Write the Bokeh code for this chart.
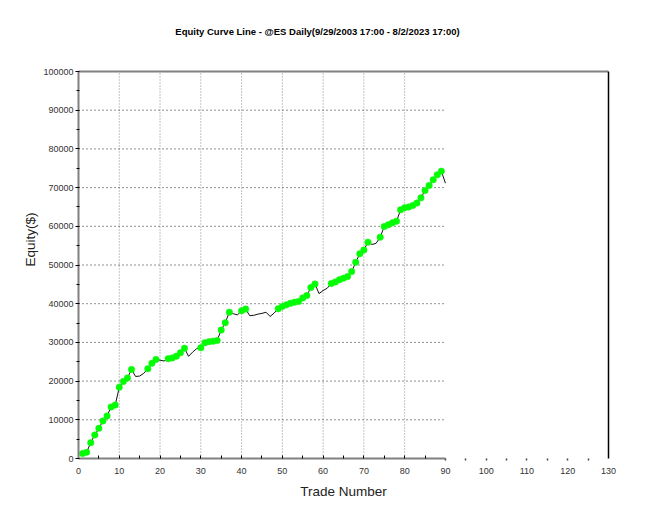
from bokeh.plotting import figure
from bokeh.models import (LinearAxis, FixedTicker, SingleIntervalTicker, Range1d,
                          NumeralTickFormatter, ColumnDataSource)
from bokeh.core.properties import value
from bokeh.embed import file_html
from bokeh.resources import INLINE

# ---------------- data ----------------
title_text = "Equity Curve Line - @ES Daily(9/29/2003 17:00 - 8/2/2023 17:00)"
x_label = "Trade Number"
y_label = "Equity($)"

trade_numbers = list(range(1, 91))
equity = [
    1300, 1600, 4100, 6100, 7800, 9700, 11000, 13300, 13800, 18400,        # 1-10
    19900, 20800, 23000, 21200, 21300, 22000, 23200, 24600, 25600, 25400,  # 11-20
    25200, 25800, 26000, 26450, 27300, 28500, 26400, 27500, 28400, 28600,  # 21-30
    29900, 30200, 30300, 30500, 33200, 35100, 37800, 37400, 37100, 38200,  # 31-40
    38600, 36900, 37000, 37300, 37500, 37800, 36700, 37600, 38700, 39300,  # 41-50
    39700, 40100, 40400, 40600, 41500, 42100, 44200, 45100, 42600, 43400,  # 51-60
    44000, 45200, 45600, 46200, 46600, 47000, 48300, 50700, 52900, 53900,  # 61-70
    55900, 55300, 55600, 57200, 59950, 60400, 60900, 61300, 64250, 64800,  # 71-80
    65000, 65400, 66000, 67350, 69250, 70550, 72000, 73300, 74250, 71150,  # 81-90
]

x_max = 130
y_max = 100000
x_tick_step = 10
y_tick_step = 10000
grid_x_extent = 90          # grid / solid x-axis drawn only up to trade 90

# new equity highs get a green dot
hi_x, hi_y = [], []
peak = float("-inf")
for n, v in zip(trade_numbers, equity):
    if v > peak:
        hi_x.append(n)
        hi_y.append(v)
        peak = v

vgrid = list(range(x_tick_step, grid_x_extent, x_tick_step))
hgrid = list(range(y_tick_step, y_max, y_tick_step))

# ---------------- layout (pixels) ----------------
W, H = 643, 513
frame_left, frame_right = 78, 608
frame_top, frame_bottom = 20, 458      # frame extends above the chart box to hold the title
box_top = 71                           # pixel row of y = y_max
title_row = 31
px_per_unit = (frame_bottom - box_top) / y_max
y_end = (frame_bottom - frame_top) / px_per_unit
title_y = (frame_bottom - title_row) / px_per_unit
title_x = (317 - frame_left) / (frame_right - frame_left) * x_max

FONT = "Liberation Sans"
p = figure(width=W, height=H,
           x_range=Range1d(0, x_max), y_range=Range1d(0, y_end),
           output_backend="svg", toolbar_location=None,
           min_border_left=frame_left, min_border_right=W - frame_right,
           min_border_top=frame_top, min_border_bottom=H - frame_bottom)
p.outline_line_color = None
p.background_fill_color = "white"
p.border_fill_color = "white"
p.xgrid.visible = False
p.ygrid.visible = False

# dotted grid (limited extent)
p.segment(x0=vgrid, x1=vgrid, y0=[0] * len(vgrid), y1=[y_max] * len(vgrid),
          line_color="#888888", line_width=1, line_dash="1 2")
p.segment(x0=[0] * len(hgrid), x1=[grid_x_extent] * len(hgrid), y0=hgrid, y1=hgrid,
          line_color="#222222", line_width=1, line_dash="1 3")

# top frame line
p.segment(x0=[0], x1=[x_max], y0=[y_max], y1=[y_max], line_color="#808080", line_width=2)

# equity curve
src = ColumnDataSource(dict(x=trade_numbers, y=equity))
p.line("x", "y", source=src, line_color="#111111", line_width=1)
hsrc = ColumnDataSource(dict(x=hi_x, y=hi_y))
p.scatter("x", "y", source=hsrc, size=6.5, fill_color="#00ff00", line_color="#22ee22",
          line_width=0.5)

# title
p.text(x=[title_x], y=[title_y], text=[title_text], text_font=value(FONT),
       text_font_style="bold", text_font_size=value("9.5px"), text_color="black",
       text_align="center", text_baseline="middle")

# ---- y axis ----
ya = p.yaxis[0]
ya.ticker = SingleIntervalTicker(interval=y_tick_step, num_minor_ticks=2)
ya.formatter = NumeralTickFormatter(format="0")
ya.bounds = (0, y_max)
ya.axis_line_color = "#808080"
ya.axis_line_width = 2
ya.major_tick_in = 0
ya.major_tick_out = 3
ya.major_tick_line_color = "black"
ya.minor_tick_in = 1
ya.minor_tick_out = 2
ya.minor_tick_line_color = "black"
ya.major_label_text_font = FONT
ya.major_label_text_font_size = "9px"
ya.major_label_text_color = "#333333"
ya.major_label_standoff = 2
ya.axis_label = y_label
ya.axis_label_text_font = FONT
ya.axis_label_text_font_style = "normal"
ya.axis_label_text_font_size = "13.5px"
ya.axis_label_text_color = "#222222"
ya.axis_label_standoff = 2

# ---- x axis: solid line + ticks to 90 (no labels) ----
xa = p.xaxis[0]
xa.ticker = FixedTicker(ticks=list(range(5, grid_x_extent, 5)), minor_ticks=[])
xa.bounds = (0, grid_x_extent)
xa.axis_line_color = "#808080"
xa.axis_line_width = 2
xa.major_tick_in = 3
xa.major_tick_out = 0
xa.major_tick_line_color = "black"
xa.minor_tick_line_color = None
xa.major_label_text_font_size = "0px"
xa.major_label_text_color = None
xa.major_label_standoff = 0

# ---- x axis: dotted extension beyond 90 (no labels) ----
xb = LinearAxis(ticker=FixedTicker(ticks=list(range(grid_x_extent, x_max, 5)), minor_ticks=[]),
                axis_line_color=None, major_tick_in=0, major_tick_out=2,
                major_tick_line_width=1.5, major_tick_line_color="#444444",
                minor_tick_line_color=None, major_label_text_font_size="0px",
                major_label_text_color=None, major_label_standoff=0)
p.add_layout(xb, "below")

# ---- x axis: labels ----
xc = LinearAxis(ticker=SingleIntervalTicker(interval=x_tick_step, num_minor_ticks=0),
                axis_line_color=None, major_tick_line_color=None, minor_tick_line_color=None,
                major_label_text_font=FONT, major_label_text_font_size="9px",
                major_label_text_color="#333333", major_label_standoff=1,
                axis_label=x_label, axis_label_text_font=FONT,
                axis_label_text_font_style="normal", axis_label_text_font_size="13.5px",
                axis_label_text_color="#222222", axis_label_standoff=7)
p.add_layout(xc, "below")

# ---- right frame line ----
right = LinearAxis(ticker=FixedTicker(ticks=[]), bounds=(0, y_max),
                   axis_line_color="black", axis_line_width=1.5,
                   major_tick_line_color=None, minor_tick_line_color=None,
                   major_label_text_font_size="0px", major_label_text_color=None,
                   major_label_standoff=0)
p.add_layout(right, "right")

open("out.html", "w").write(file_html(p, INLINE))
